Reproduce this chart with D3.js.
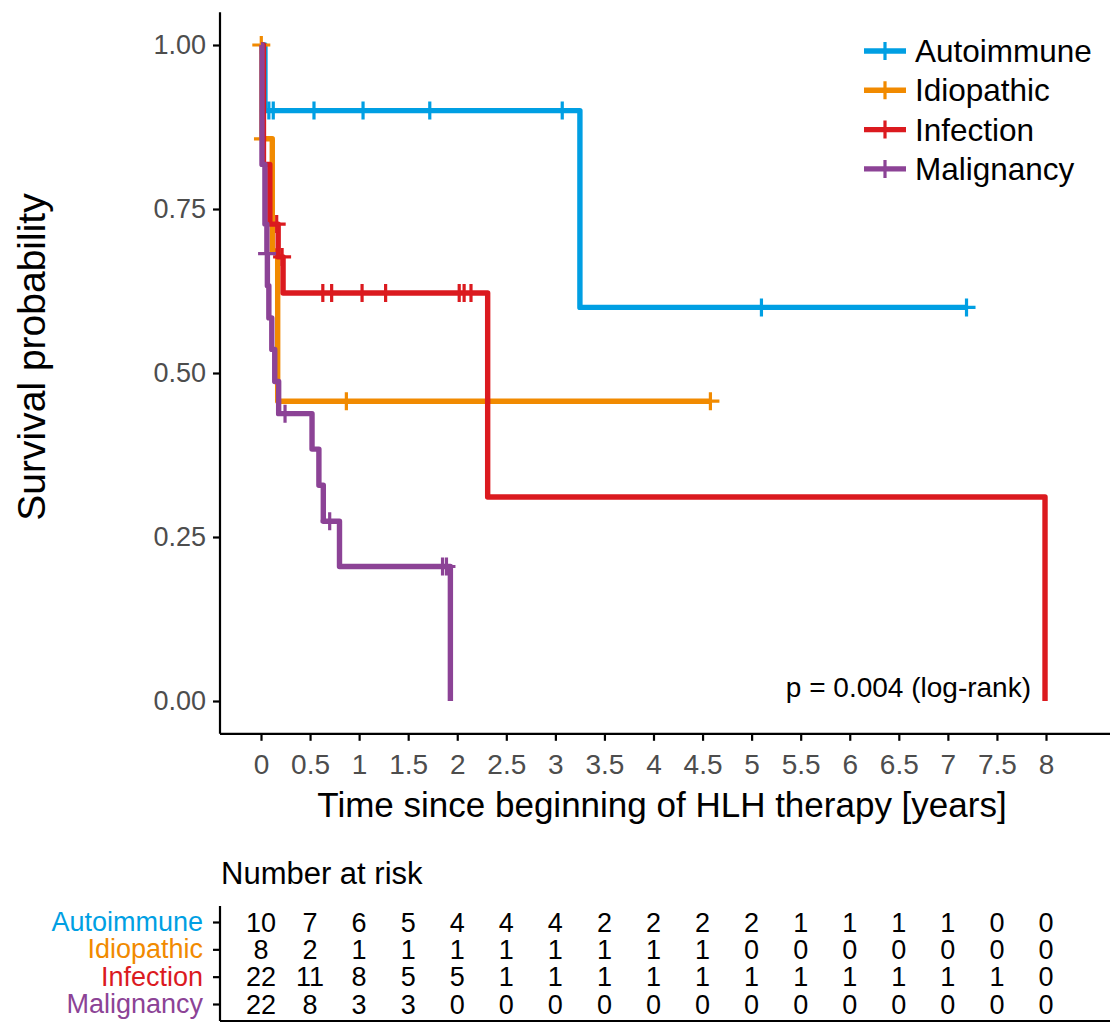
<!DOCTYPE html>
<html>
<head>
<meta charset="utf-8">
<script src="https://cdnjs.cloudflare.com/ajax/libs/d3/7.8.5/d3.min.js"></script>
<style>
  html, body { margin: 0; padding: 0; background: #fff; }
  svg { display: block; font-family: "Liberation Sans", Arial, Helvetica, sans-serif; }
</style>
</head>
<body>
<svg id="chart" width="1110" height="1026"></svg>
<script>
// Kaplan-Meier survival by HLH trigger group
const groups = ["Autoimmune", "Idiopathic", "Infection", "Malignancy"];
const colors = ["#009FE3", "#F18A00", "#DB1A1F", "#8C4396"];

// step times (years) and survival after each step
const autoTimes = [0, 0.04, 3.25, 7.19];
const autoSurv  = [1, 0.9, 0.6, 0.6];
const autoCensor = [0.08, 0.125, 0.54, 1.04, 1.72, 3.07, 5.10, 7.19];

const idioTimes = [0, 0.01, 0.115, 0.17, 4.58];
const idioSurv  = [1, 0.857, 0.686, 0.457, 0.457];
const idioCensor = [0.003, 0.02, 0.87, 4.58];

const infTimes = [0, 0.025, 0.09, 0.175, 0.225, 2.31, 7.99];
const infSurv  = [1, 0.818, 0.727, 0.677, 0.622, 0.311, 0];
const infCensor = [0.16, 0.215, 0.63, 0.72, 1.03, 1.27, 2.02, 2.07, 2.14];

const malTimes = [0, 0.01, 0.04, 0.06, 0.065, 0.08, 0.11, 0.14, 0.18, 0.52, 0.59, 0.635, 0.80, 1.93];
const malSurv  = [1, 0.818, 0.727, 0.682, 0.633, 0.584, 0.536, 0.487, 0.438, 0.384, 0.329, 0.274, 0.205, 0];
const malCensor = [0.062, 0.245, 0.70, 1.85, 1.89];

// axis ticks
const xTicks = [0, 0.5, 1, 1.5, 2, 2.5, 3, 3.5, 4, 4.5, 5, 5.5, 6, 6.5, 7, 7.5, 8];
const yTicks = [0, 0.25, 0.5, 0.75, 1];

// number at risk at each x tick
const riskAuto = [10, 7, 6, 5, 4, 4, 4, 2, 2, 2, 2, 1, 1, 1, 1, 0, 0];
const riskIdio = [8, 2, 1, 1, 1, 1, 1, 1, 1, 1, 0, 0, 0, 0, 0, 0, 0];
const riskInf  = [22, 11, 8, 5, 5, 1, 1, 1, 1, 1, 1, 1, 1, 1, 1, 1, 0];
const riskMal  = [22, 8, 3, 3, 0, 0, 0, 0, 0, 0, 0, 0, 0, 0, 0, 0, 0];

const pText = "p = 0.004 (log-rank)";

const curves = [
  { times: autoTimes, surv: autoSurv, censor: autoCensor },
  { times: idioTimes, surv: idioSurv, censor: idioCensor },
  { times: infTimes,  surv: infSurv,  censor: infCensor },
  { times: malTimes,  surv: malSurv,  censor: malCensor }
];
const riskRows = [riskAuto, riskIdio, riskInf, riskMal];

const svg = d3.select("#chart");
const FONT_TICK = 27, FONT_TITLE = 35;
const LINE_W = 5.4, CENS_W = 3.2;

// ---- survival panel ----
const x = d3.scaleLinear().domain([0, 8]).range([261, 1046]);
const y = d3.scaleLinear().domain([0, 1]).range([701, 45]);
const xLeft = x.invert(220), xRight = x.invert(1110);
const yTop = 1.05, yBottom = -0.05;

const plot = svg.append("g");

// y axis
const yAxis = d3.axisLeft(y).tickValues(yTicks).tickFormat(d3.format(".2f")).tickSize(7).tickPadding(7);
const gy = plot.append("g").attr("transform", "translate(220,0)").call(yAxis);
gy.select(".domain").remove();
gy.append("line").attr("x1", 0).attr("x2", 0).attr("y1", y(yTop)).attr("y2", y(yBottom))
  .attr("stroke", "#000").attr("stroke-width", 2.2);
gy.selectAll(".tick line").attr("stroke", "#000").attr("stroke-width", 2.2);
gy.selectAll(".tick text").attr("fill", "#4D4D4D").attr("font-size", FONT_TICK)
  .attr("font-family", "Liberation Sans, Arial, sans-serif");

// x axis
const xAxis = d3.axisBottom(x).tickValues(xTicks).tickFormat(d => d3.format("")(d)).tickSize(7).tickPadding(13);
const gx = plot.append("g").attr("transform", `translate(0,${y(yBottom)})`).call(xAxis);
gx.select(".domain").remove();
gx.append("line").attr("x1", x(xLeft)).attr("x2", x(xRight)).attr("y1", 0).attr("y2", 0)
  .attr("stroke", "#000").attr("stroke-width", 2.2);
gx.selectAll(".tick line").attr("stroke", "#000").attr("stroke-width", 2.2);
gx.selectAll(".tick text").attr("fill", "#4D4D4D").attr("font-size", 28)
  .attr("font-family", "Liberation Sans, Arial, sans-serif");

// axis titles
plot.append("text").attr("x", (x(xLeft) + x(xRight)) / 2 - 3).attr("y", 817)
  .attr("text-anchor", "middle").attr("font-size", FONT_TITLE).text("Time since beginning of HLH therapy [years]");
plot.append("text").attr("transform", `translate(45,${(y(yTop) + y(yBottom)) / 2 - 16}) rotate(-90)`)
  .attr("text-anchor", "middle").attr("font-size", 39).text("Survival probability");

// step lines
const line = d3.line().x(d => x(d[0])).y(d => y(d[1])).curve(d3.curveStepAfter);
function survAt(c, t) {
  let s = c.surv[0];
  for (let i = 0; i < c.times.length; i++) if (c.times[i] <= t) s = c.surv[i];
  return s;
}
const plus = "M-9,0H9M0,-9V9";

curves.forEach((c, i) => {
  const pts = c.times.map((t, k) => [t, c.surv[k]]);
  const g = plot.append("g");
  g.append("path").attr("d", line(pts)).attr("fill", "none")
    .attr("stroke", colors[i]).attr("stroke-width", LINE_W).attr("stroke-linejoin", "round");
  g.selectAll("path.cens").data(c.censor).join("path").attr("class", "cens")
    .attr("d", plus)
    .attr("transform", t => `translate(${x(t)},${y(survAt(c, t))})`)
    .attr("stroke", colors[i]).attr("stroke-width", CENS_W).attr("fill", "none");
});

// p-value
plot.append("text").attr("x", 1031).attr("y", 697).attr("text-anchor", "end")
  .attr("font-size", 28).text(pText);

// legend
const legend = svg.append("g").attr("transform", "translate(864,51)");
groups.forEach((name, i) => {
  const r = legend.append("g").attr("transform", `translate(0,${i * 39.3})`);
  r.append("line").attr("x1", 0).attr("x2", 42).attr("stroke", colors[i]).attr("stroke-width", LINE_W);
  r.append("path").attr("d", plus).attr("transform", "translate(21,0)")
    .attr("stroke", colors[i]).attr("stroke-width", CENS_W);
  r.append("text").attr("x", 51).attr("y", 0).attr("dy", "0.35em").attr("font-size", 31.5).text(name);
});

// ---- number at risk table ----
const table = svg.append("g");
table.append("text").attr("x", 221).attr("y", 884).attr("font-size", 31).text("Number at risk");

const ry = d3.scalePoint().domain(groups).range([922, 1004]);
const ryAxis = d3.axisLeft(ry).tickSize(7).tickPadding(10);
const gr = table.append("g").attr("transform", "translate(220,0)").call(ryAxis);
gr.select(".domain").remove();
gr.append("line").attr("x1", 0).attr("x2", 0).attr("y1", 906).attr("y2", 1021)
  .attr("stroke", "#000").attr("stroke-width", 2.2);
gr.selectAll(".tick line").attr("stroke", "#000").attr("stroke-width", 2.2);
gr.selectAll(".tick text").attr("font-size", 27).attr("fill", (d, i) => colors[i])
  .attr("font-family", "Liberation Sans, Arial, sans-serif");
table.append("line").attr("x1", 220).attr("x2", 1110).attr("y1", 1021).attr("y2", 1021)
  .attr("stroke", "#000").attr("stroke-width", 2.2);

riskRows.forEach((row, i) => {
  table.selectAll(null).data(row).join("text")
    .attr("x", (d, k) => x(xTicks[k])).attr("y", ry(groups[i]))
    .attr("dy", "0.36em").attr("text-anchor", "middle").attr("font-size", 27)
    .text(d => d);
});
</script>
</body>
</html>
